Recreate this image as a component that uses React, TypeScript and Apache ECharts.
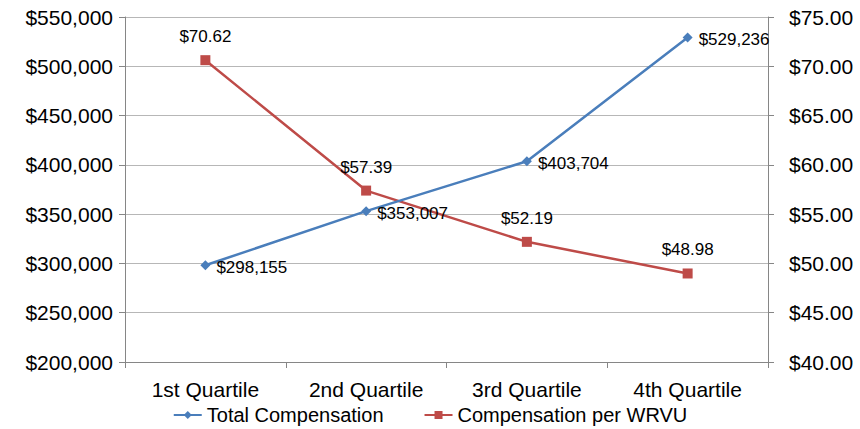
import React, { useEffect, useRef } from "react";
import * as echarts from "echarts";

const categories = ["1st Quartile", "2nd Quartile", "3rd Quartile", "4th Quartile"];
const totalCompensation = [298155, 353007, 403704, 529236];
const compensationPerWRVU = [70.62, 57.39, 52.19, 48.98];

const FONT = "Liberation Sans";
const AXIS_COLOR = "#868686";
const GRID_COLOR = "#B7B7B7";
const BLUE = "#4A7EBB";
const RED = "#BE4B48";

export default function App() {
  const ref = useRef<HTMLDivElement>(null);
  useEffect(() => {
    if (!ref.current) return;
    const chart = echarts.init(ref.current, null, { renderer: "svg" });
    chart.setOption({
      animation: false,
      textStyle: { fontFamily: FONT, color: "#000" },
      grid: { left: 125, right: 92, top: 17, bottom: 67, containLabel: false },
      legend: {
        top: 404,
        left: "center",
        padding: 0,
        itemGap: 40,
        itemWidth: 28,
        itemHeight: 10,
        textStyle: { fontFamily: FONT, fontSize: 20, color: "#000", lineHeight: 22 },
        data: ["Total Compensation", "Compensation per WRVU"],
      },
      xAxis: {
        type: "category",
        data: categories,
        boundaryGap: true,
        axisLine: { lineStyle: { color: AXIS_COLOR, width: 1 } },
        axisTick: { show: true, alignWithLabel: false, length: 6, lineStyle: { color: AXIS_COLOR } },
        axisLabel: { fontFamily: FONT, fontSize: 21, color: "#000", margin: 17 },
      },
      yAxis: [
        {
          type: "value",
          min: 200000,
          max: 550000,
          interval: 50000,
          position: "left",
          axisLine: { show: true, lineStyle: { color: AXIS_COLOR, width: 1 } },
          axisTick: { show: true, length: 6, lineStyle: { color: AXIS_COLOR } },
          splitLine: { show: true, lineStyle: { color: GRID_COLOR, width: 1 } },
          axisLabel: {
            fontFamily: FONT,
            fontSize: 21,
            color: "#000",
            margin: 12,
            formatter: (v: number) => "$" + v.toLocaleString("en-US"),
          },
        },
        {
          type: "value",
          min: 40,
          max: 75,
          interval: 5,
          position: "right",
          axisLine: { show: true, lineStyle: { color: AXIS_COLOR, width: 1 } },
          axisTick: { show: true, length: 6, lineStyle: { color: AXIS_COLOR } },
          splitLine: { show: false },
          axisLabel: {
            fontFamily: FONT,
            fontSize: 21,
            color: "#000",
            margin: 21,
            formatter: (v: number) => "$" + v.toFixed(2),
          },
        },
      ],
      series: [
        {
          name: "Total Compensation",
          type: "line",
          yAxisIndex: 0,
          data: totalCompensation,
          symbol: "diamond",
          symbolSize: 10,
          itemStyle: { color: BLUE },
          lineStyle: { color: BLUE, width: 2.5 },
          label: {
            show: true,
            position: "right",
            distance: 6,
            fontFamily: FONT,
            fontSize: 17,
            color: "#000",
            offset: [0, 2],
            formatter: (p: any) => "$" + Number(p.value).toLocaleString("en-US"),
          },
          z: 3,
        },
        {
          name: "Compensation per WRVU",
          type: "line",
          yAxisIndex: 1,
          data: compensationPerWRVU,
          symbol: "rect",
          symbolSize: 10,
          itemStyle: { color: RED },
          lineStyle: { color: RED, width: 2.5 },
          label: {
            show: true,
            position: "top",
            distance: 10,
            fontFamily: FONT,
            fontSize: 17,
            color: "#000",
            formatter: (p: any) => "$" + Number(p.value).toFixed(2),
          },
          z: 2,
        },
      ],
    });
    return () => chart.dispose();
  }, []);
  return <div ref={ref} style={{ width: 860, height: 429, position: "absolute", left: 0, top: 0 }} />;
}
